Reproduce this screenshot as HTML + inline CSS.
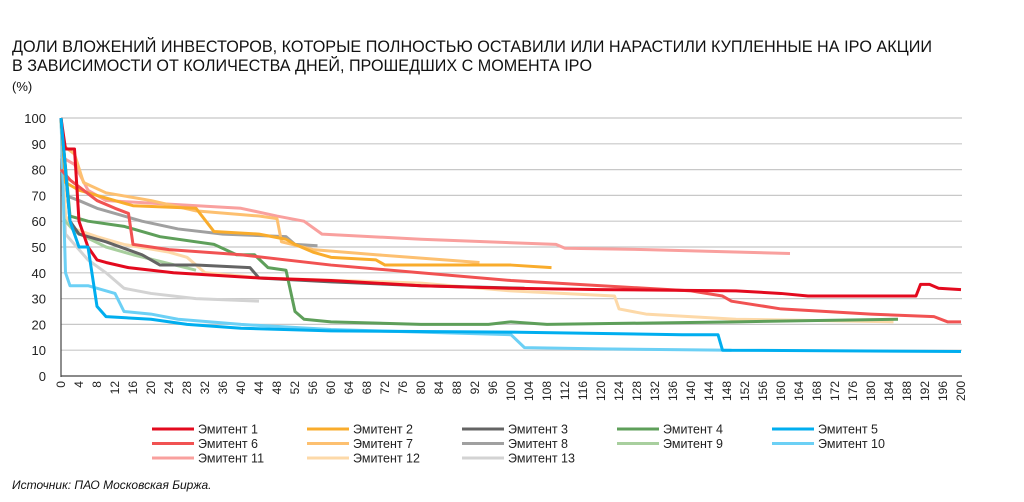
<!DOCTYPE html>
<html><head><meta charset="utf-8"><style>
body{margin:0;background:#fff;}
svg{display:block;font-family:"Liberation Sans",sans-serif;}
</style></head><body>
<svg id="s" width="1024" height="502" viewBox="0 0 1024 502" xmlns="http://www.w3.org/2000/svg">
<text x="12" y="52" font-size="17" fill="#111" textLength="920" lengthAdjust="spacingAndGlyphs">ДОЛИ ВЛОЖЕНИЙ ИНВЕСТОРОВ, КОТОРЫЕ ПОЛНОСТЬЮ ОСТАВИЛИ ИЛИ НАРАСТИЛИ КУПЛЕННЫЕ НА IPO АКЦИИ</text>
<text x="12" y="71" font-size="17" fill="#111" textLength="580" lengthAdjust="spacingAndGlyphs">В ЗАВИСИМОСТИ ОТ КОЛИЧЕСТВА ДНЕЙ, ПРОШЕДШИХ С МОМЕНТА IPO</text>
<text x="12" y="91" font-size="13" fill="#111">(%)</text>
<text x="12" y="489" font-size="12" font-style="italic" fill="#111">Источник: ПАО Московская Биржа.</text>
<g id="g"></g>
</svg>
<script>
var NS="http://www.w3.org/2000/svg",g=document.getElementById('g');
function X(d){return 61+4.5*d}function Y(v){return 376-2.58*v}
function el(t,a,txt){var e=document.createElementNS(NS,t);for(var k in a)e.setAttribute(k,a[k]);if(txt!=null)e.textContent=txt;g.appendChild(e);return e}
for(var v=0;v<=100;v+=10){if(v>0)el('line',{x1:61,x2:962,y1:Y(v),y2:Y(v),stroke:'#c8c8c8','stroke-width':1.2});
el('text',{x:46,y:Y(v)+5,'font-size':13,'text-anchor':'end',fill:'#222'},v);}
el('line',{x1:61,x2:61,y1:118,y2:377,stroke:'#444','stroke-width':1.2});
el('line',{x1:61,x2:962,y1:376,y2:376,stroke:'#444','stroke-width':1.2});
for(var d=0;d<=200;d+=4){el('text',{x:0,y:0,'font-size':12,'text-anchor':'end',fill:'#222',transform:'translate('+(X(d)+4)+',381) rotate(-90)'},d);}
var S=[
['#a0a0a0',[[0,100],[1,70],[4,68],[8,65],[12,63],[18,60],[26,57],[36,55],[50,54],[52,51],[57,50.5]]],
['#d3d3d3',[[0,100],[1,55],[6,45],[10,40],[14,34],[20,32],[30,30],[44,29]]],
['#a8cf9e',[[0,100],[1,60],[3,56],[10,50],[16,47],[30,41]]],
['#fdd9a8',[[0,100],[1,62],[3,57],[8,54],[14,51],[24,48],[28,46],[32,40],[45,38],[80,36],[100,33],[123,31],[124,26],[130,24],[150,22],[185,21]]],
['#f9a09e',[[0,85],[3,82],[6,72],[10,68],[20,67],[40,65],[48,62],[54,60],[58,55],[80,53],[110,51],[112,49.5],[130,49],[162,47.5]]],
['#fdc070',[[0,90],[3,86],[5,75],[10,71],[20,68],[30,64],[44,62],[48,61],[49,52],[56,49],[70,47],[93,44]]],
['#6cd0f5',[[0,100],[1,40],[2,35],[6,35],[12,32],[14,25],[20,24],[26,22],[40,20],[60,18],[100,16],[103,11],[120,10.5],[149,10]]],
['#f9ac2c',[[0,100],[1,75],[4,72],[8,70],[16,66],[30,65],[34,56],[44,55],[50,53],[52,51],[56,48],[60,46],[70,45],[72,43],[100,43],[109,42]]],
['#646464',[[0,100],[2,60],[4,55],[10,52],[18,47],[22,43],[30,43],[42,42],[44,38],[60,36.5],[80,35],[103,34]]],
['#5e9f5a',[[0,100],[2,62],[6,60],[14,58],[22,54],[34,51],[39,47],[43,47],[46,42],[50,41],[52,25],[54,22],[60,21],[80,20],[95,20],[100,21],[108,20],[150,21],[186,22]]],
['#f15252',[[0,80],[2,76],[5,72],[8,68],[12,65],[15,63],[16,51],[24,49],[40,47],[60,43],[100,37],[140,33],[147,31],[149,29],[160,26],[180,24],[194,23],[197,21],[200,21]]],
['#e30a1e',[[0,100],[1,88],[3,88],[4,60],[6,50],[8,45],[10,44],[15,42],[25,40],[44,38],[60,37],[80,35],[100,34],[120,33.5],[150,33],[160,32],[166,31],[190,31],[191,35.5],[193,35.5],[195,34],[200,33.5]]],
['#00aeef',[[0,100],[2,60],[4,50],[6,50],[8,27],[10,23],[20,22],[28,20],[40,18.5],[60,17.5],[100,17],[138,16],[146,16],[147,10],[200,9.5]]]
];
S.forEach(function(s){el('polyline',{points:s[1].map(function(p){return X(p[0])+','+Y(p[1])}).join(' '),fill:'none',stroke:s[0],'stroke-width':3,'stroke-linejoin':'round'})});
var L=[['Эмитент 1','#e30a1e'],['Эмитент 2','#f9ac2c'],['Эмитент 3','#646464'],['Эмитент 4','#5e9f5a'],['Эмитент 5','#00aeef'],
['Эмитент 6','#f15252'],['Эмитент 7','#fdc070'],['Эмитент 8','#a0a0a0'],['Эмитент 9','#a8cf9e'],['Эмитент 10','#6cd0f5'],
['Эмитент 11','#f9a09e'],['Эмитент 12','#fdd9a8'],['Эмитент 13','#d3d3d3']];
L.forEach(function(l,i){var c=i%5,r=Math.floor(i/5),x=152+c*155,y=429+r*14.5;
el('line',{x1:x,x2:x+42,y1:y,y2:y,stroke:l[1],'stroke-width':3});
el('text',{x:x+46,y:y+4.5,'font-size':12.5,fill:'#222'},l[0]);});
</script>
</body></html>
